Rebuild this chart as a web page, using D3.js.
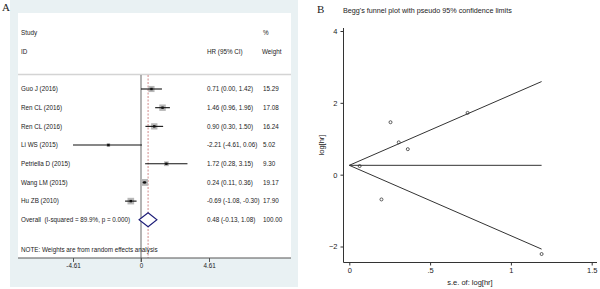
<!DOCTYPE html>
<html><head><meta charset="utf-8">
<script src="https://cdn.jsdelivr.net/npm/d3@7"></script>
<style>
body{margin:0;background:#fff;}
svg{display:block;}
text{font-family:"Liberation Sans Narrow","Arial Narrow","Liberation Sans",Arial,sans-serif;fill:#222;}
</style></head><body>
<svg id="c" width="600" height="289"></svg>
<script>
// ---- Panel A data (forest plot) ----
const studies = ["Guo J (2016)","Ren CL (2016)","Ren CL (2016)","Li WS (2015)","Petriella D (2015)","Wang LM (2015)","Hu ZB (2010)"];
const hr = [0.71, 1.46, 0.90, -2.21, 1.72, 0.24, -0.69];
const lo = [0.00, 0.96, 0.30, -4.61, 0.28, 0.11, -1.08];
const hi = [1.42, 1.96, 1.50, 0.06, 3.15, 0.36, -0.30];
const weights = ["15.29","17.08","16.24","5.02","9.30","19.17","17.90"];
const ciLabels = ["0.71 (0.00, 1.42)","1.46 (0.96, 1.96)","0.90 (0.30, 1.50)","-2.21 (-4.61, 0.06)","1.72 (0.28, 3.15)","0.24 (0.11, 0.36)","-0.69 (-1.08, -0.30)"];
const overall = {label:"Overall  (I-squared = 89.9%, p = 0.000)", est:0.48, lo:-0.13, hi:1.08, ci:"0.48 (-0.13, 1.08)", w:"100.00"};
const forestTicks = [-4.61, 0, 4.61];
const forestTickLabels = ["-4.61","0","4.61"];

// ---- Panel B data (Begg's funnel) ----
const funnelSE = [0.362, 0.255, 0.306, 1.19, 0.732, 0.064, 0.199];
const funnelLogHR = [0.71, 1.46, 0.90, -2.21, 1.72, 0.24, -0.69];
const pooled = 0.26;
const maxSE = 1.19;
const funnelXTicks = [0, 0.5, 1, 1.5];
const funnelXTickLabels = ["0", ".5", "1", "1.5"];
const funnelYTicks = [-2, 0, 2, 4];

const svg = d3.select("#c");

// ================= Panel A =================
const A = svg.append("g");
A.append("rect").attr("x",10).attr("y",0).attr("width",288).attr("height",287).attr("fill","#e9f1f3");
A.append("rect").attr("x",18).attr("y",13).attr("width",273).attr("height",245).attr("fill","#ffffff");
A.append("text").attr("x",2).attr("y",11).text("A")
  .style("font-family","'Liberation Serif','Times New Roman',serif").style("font-size","11px");

const fx = d3.scaleLinear().domain([-4.61, 4.61]).range([73, 209]);
const rowY = d3.scaleLinear().domain([0, 7]).range([89, 219.8]);
const fs = "6.3px";

// header
const hdr = [["Study",21,35],["ID",21,54],["%",263,35],["HR (95% CI)",207,54],["Weight",262,54]];
hdr.forEach(h=>A.append("text").attr("x",h[1]).attr("y",h[2]).text(h[0]).style("font-size",fs));
A.append("line").attr("x1",18).attr("x2",291).attr("y1",74.5).attr("y2",74.5).attr("stroke","#d4d4d4").attr("stroke-width",1.5);

// zero line
A.append("line").attr("x1",fx(0)).attr("x2",fx(0)).attr("y1",75).attr("y2",262).attr("stroke","#8a8a8a").attr("stroke-width",1.3);
// overall dashed line
A.append("line").attr("x1",fx(overall.est)).attr("x2",fx(overall.est)).attr("y1",75).attr("y2",258)
  .attr("stroke","#d08a8a").attr("stroke-width",1).attr("stroke-dasharray","2,1.5");

const wScale = d3.scaleSqrt().domain([0, 20]).range([0, 7]);
studies.forEach((s,i)=>{
  const y = rowY(i);
  A.append("text").attr("x",21).attr("y",y+2.3).text(s).style("font-size",fs);
  A.append("text").attr("x",207).attr("y",y+2.3).text(ciLabels[i]).style("font-size",fs);
  A.append("text").attr("x",263).attr("y",y+2.3).text(weights[i]).style("font-size",fs);
  const b = wScale(+weights[i]);
  A.append("rect").attr("x",fx(hr[i])-b/2).attr("y",y-b/2).attr("width",b).attr("height",b).attr("fill","#b8b8b8");
  A.append("line").attr("x1",fx(lo[i])).attr("x2",fx(hi[i])).attr("y1",y).attr("y2",y).attr("stroke","#111").attr("stroke-width",1.1);
  A.append("rect").attr("x",fx(hr[i])-1.2).attr("y",y-1.2).attr("width",2.4).attr("height",2.4).attr("fill","#111");
});
// overall row
const oy = rowY(7);
A.append("text").attr("x",21).attr("y",oy+2.3).text(overall.label).style("font-size",fs).attr("xml:space","preserve");
A.append("text").attr("x",207).attr("y",oy+2.3).text(overall.ci).style("font-size",fs);
A.append("text").attr("x",263).attr("y",oy+2.3).text(overall.w).style("font-size",fs);
A.append("path").attr("d",`M${fx(overall.lo)},${oy} L${fx(overall.est)},${oy-7} L${fx(overall.hi)},${oy} L${fx(overall.est)},${oy+7} Z`)
  .attr("fill","#fff").attr("stroke","#1c1c78").attr("stroke-width",1.1);
A.append("text").attr("x",21).attr("y",251.5).text("NOTE: Weights are from random effects analysis").style("font-size",fs);

// axis
const ax = d3.axisBottom(fx).tickValues(forestTicks).tickFormat((d,i)=>forestTickLabels[i]).tickSize(4).tickPadding(2);
const axg = A.append("g").attr("transform","translate(0,258)").call(ax);
axg.select(".domain").remove();
axg.selectAll("line").attr("stroke","#555");
axg.selectAll("text").style("font-size",fs).style("fill","#222");
A.append("line").attr("x1",18).attr("x2",291).attr("y1",258).attr("y2",258).attr("stroke","#555").attr("stroke-width",1);

// ================= Panel B =================
const B = svg.append("g");
B.append("text").attr("x",317).attr("y",13).text("B")
  .style("font-family","'Liberation Serif','Times New Roman',serif").style("font-size","11px");
B.append("text").attr("x",343).attr("y",13).text("Begg's funnel plot with pseudo 95% confidence limits").style("font-size","7.2px");

const bx = d3.scaleLinear().domain([0, 1.5]).range([349.3, 591.7]);
const by = d3.scaleLinear().domain([-2, 4]).range([246.5, 31]);

const yAx = d3.axisLeft(by).tickValues(funnelYTicks).tickFormat(d3.format("d")).tickSize(3).tickPadding(3);
const yg = B.append("g").attr("transform","translate(343.5,0)").call(yAx);
yg.select(".domain").remove();
B.append("line").attr("x1",343.5).attr("x2",343.5).attr("y1",28).attr("y2",262.5).attr("stroke","#333");
yg.selectAll("text").style("font-size","7.5px").style("fill","#222");
yg.selectAll("line").attr("stroke","#333");

const xAx = d3.axisBottom(bx).tickValues(funnelXTicks).tickFormat((d,i)=>funnelXTickLabels[i]).tickSize(3).tickPadding(2);
const xg = B.append("g").attr("transform","translate(0,262.5)").call(xAx);
xg.select(".domain").remove();
B.append("line").attr("x1",343.5).attr("x2",597).attr("y1",262.5).attr("y2",262.5).attr("stroke","#333");
xg.selectAll("text").style("font-size","7.5px").style("fill","#222");
xg.selectAll("line").attr("stroke","#333");

B.append("text").attr("transform","translate(324,145) rotate(-90)").attr("text-anchor","middle").text("log[hr]").style("font-size","7.5px");
B.append("text").attr("x",470).attr("y",285).attr("text-anchor","middle").text("s.e. of: log[hr]").style("font-size","7.5px");

// funnel lines
const line = d3.line().x(d=>bx(d[0])).y(d=>by(d[1]));
[[ [0,pooled],[maxSE,pooled+1.96*maxSE] ], [ [0,pooled],[maxSE,pooled] ], [ [0,pooled],[maxSE,pooled-1.96*maxSE] ]]
  .forEach(pts=>B.append("path").attr("d",line(pts)).attr("fill","none").attr("stroke","#333").attr("stroke-width",1));

funnelSE.forEach((s,i)=>{
  B.append("circle").attr("cx",bx(s)).attr("cy",by(funnelLogHR[i])).attr("r",1.5).attr("fill","none").attr("stroke","#333").attr("stroke-width",0.8);
});
</script>
</body></html>
